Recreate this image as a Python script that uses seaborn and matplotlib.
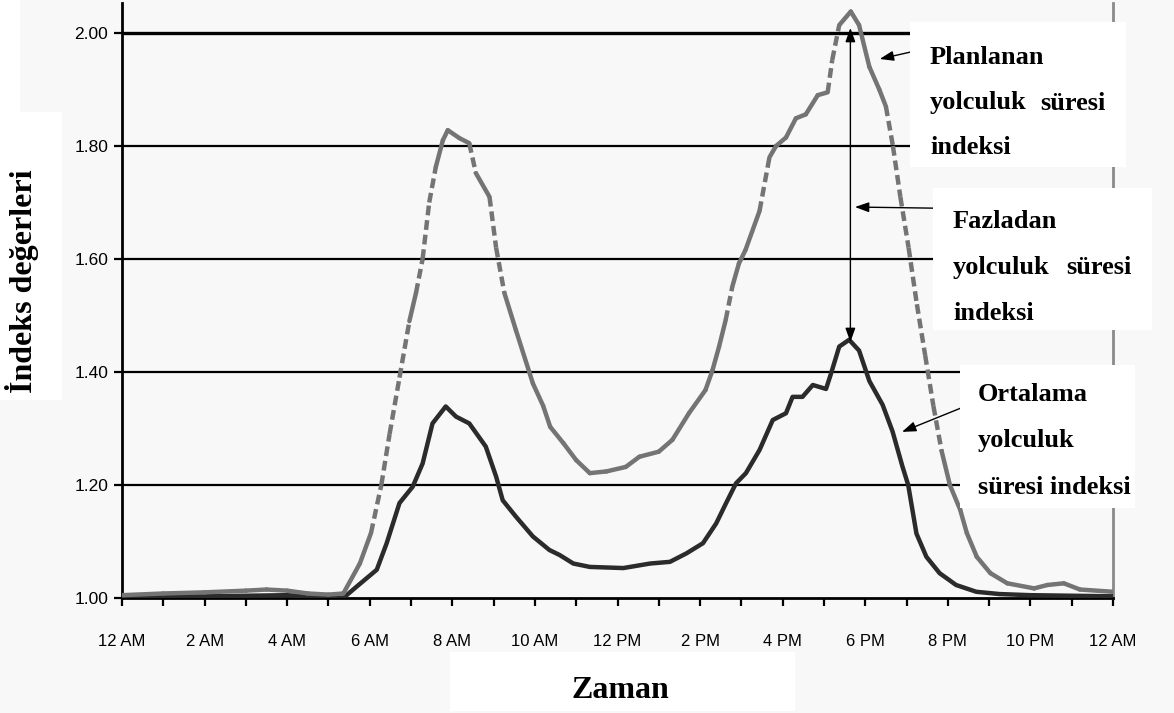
import numpy as np
import pandas as pd
import seaborn as sns
import matplotlib.pyplot as plt
from matplotlib.patches import Rectangle

# planned travel time index (gray) - hours after midnight, index value
plan_hours = [0, 1, 2, 3, 3.5, 4, 4.5, 5, 5.36, 5.76, 6.03, 6.28, 6.48, 6.72, 6.96, 7.12, 7.28, 7.44,
              7.6, 7.77, 7.89, 8.17, 8.41, 8.57, 8.9, 9.06, 9.26, 9.54, 9.95, 10.2, 10.37, 10.69, 11.0,
              11.33, 11.73, 12.2, 12.53, 13.0, 13.33, 13.73, 14.13, 14.3, 14.46, 14.62, 14.78, 14.94,
              15.1, 15.44, 15.68, 15.84, 16.08, 16.32, 16.56, 16.85, 17.09, 17.2, 17.37, 17.65, 17.85,
              18.1, 18.34, 18.5, 18.67, 18.85, 19.05, 19.25, 19.45, 19.65, 19.85, 20.05, 20.3, 20.46,
              20.7, 21.03, 21.44, 22.09, 22.41, 22.81, 23.2, 24.0]
plan_index = [1.005, 1.008, 1.010, 1.013, 1.015, 1.013, 1.008, 1.006, 1.008, 1.061, 1.115, 1.20, 1.29,
              1.39, 1.49, 1.54, 1.60, 1.70, 1.763, 1.81, 1.828, 1.814, 1.805, 1.752, 1.71, 1.62, 1.54,
              1.474, 1.38, 1.34, 1.303, 1.274, 1.244, 1.221, 1.224, 1.232, 1.25, 1.259, 1.28, 1.327,
              1.368, 1.403, 1.445, 1.492, 1.551, 1.592, 1.616, 1.685, 1.78, 1.80, 1.815, 1.849, 1.856,
              1.89, 1.895, 1.952, 2.014, 2.038, 2.014, 1.94, 1.90, 1.87, 1.80, 1.71, 1.62, 1.52, 1.43,
              1.34, 1.26, 1.20, 1.156, 1.115, 1.073, 1.044, 1.026, 1.017, 1.023, 1.026, 1.015, 1.011]

# average travel time index (dark)
avg_hours = [0, 2, 3, 4, 4.5, 5.36, 5.68, 6.17, 6.41, 6.72, 7.04, 7.28, 7.52, 7.84, 8.09, 8.41, 8.81,
             9.06, 9.22, 9.54, 9.95, 10.35, 10.6, 10.93, 11.33, 12.14, 12.79, 13.27, 13.67, 14.07,
             14.39, 14.63, 14.87, 15.11, 15.44, 15.76, 16.08, 16.24, 16.48, 16.73, 17.05, 17.17, 17.37,
             17.61, 17.85, 18.1, 18.42, 18.66, 18.9, 19.04, 19.24, 19.48, 19.8, 20.2, 20.69, 21.25,
             22, 23, 24]
avg_index = [1.002, 1.003, 1.004, 1.005, 1.003, 1.0, 1.02, 1.05, 1.097, 1.168, 1.197, 1.238, 1.309,
             1.339, 1.321, 1.309, 1.268, 1.215, 1.173, 1.144, 1.109, 1.085, 1.076, 1.061, 1.055, 1.053,
             1.061, 1.064, 1.079, 1.097, 1.132, 1.168, 1.203, 1.221, 1.262, 1.315, 1.327, 1.356, 1.356,
             1.377, 1.37, 1.397, 1.445, 1.457, 1.438, 1.384, 1.342, 1.295, 1.233, 1.20, 1.114, 1.073,
             1.044, 1.023, 1.011, 1.007, 1.005, 1.004, 1.003]

tick_labels = ['12 AM', '2 AM', '4 AM', '6 AM', '8 AM', '10 AM', '12 PM',
               '2 PM', '4 PM', '6 PM', '8 PM', '10 PM', '12 AM']
y_ticks = [1.00, 1.20, 1.40, 1.60, 1.80, 2.00]

W, H = 1174, 713
BG = '#f8f8f8'
GRAY = '#747474'
DARK = '#2b2b2b'

sns.set_theme(style='white')
plt.rcParams['font.family'] = ['Liberation Sans', 'DejaVu Sans']

fig = plt.figure(figsize=(W / 100, H / 100), dpi=100, facecolor=BG)
ax = fig.add_axes([122 / W, 115 / H, (1113 - 122) / W, (710 - 115) / H])
ax.set_facecolor(BG)

# gray line: steep pieces come out dashed in the original, flat pieces solid
ph = np.array(plan_hours)
pv = np.array(plan_index)
slope = np.abs(np.diff(pv) / np.diff(ph)) * (565 / 41.3)
rows = []
for i in range(len(ph) - 1):
    kind = 'steep' if slope[i] > 4.5 else 'flat'
    rows.append((ph[i], pv[i], i, kind))
    rows.append((ph[i + 1], pv[i + 1], i, kind))
plan_df = pd.DataFrame(rows, columns=['hour', 'index', 'seg', 'kind'])
avg_df = pd.DataFrame({'hour': avg_hours, 'index': avg_index})

sns.lineplot(data=avg_df, x='hour', y='index', color=DARK, lw=3.2, ax=ax,
             estimator=None, sort=False, zorder=3)
sns.lineplot(data=plan_df, x='hour', y='index', units='seg', style='kind',
             dashes={'flat': '', 'steep': (2.2, 1.1)}, color=GRAY, lw=3.2, ax=ax,
             estimator=None, sort=False, legend=False, zorder=4)

# horizontal grid
for v in y_ticks[1:]:
    ax.axhline(v, color='black', lw=2.4 if v == 2.0 else 1.6, zorder=1)

ax.set_xlim(0, 24)
ax.set_ylim(1.0, 1 + (598 - 3) / 565)
ax.set_xticks(range(0, 25))
ax.set_xticklabels([tick_labels[h // 2] if h % 2 == 0 else '' for h in range(25)])
ax.set_yticks(y_ticks)
ax.set_yticklabels([f'{v:.2f}' for v in y_ticks])
ax.tick_params(axis='x', direction='out', length=6, width=1.6, color='black',
               pad=20, labelsize=12, labelcolor='black', bottom=True)
ax.tick_params(axis='y', direction='out', length=6, width=1.6, color='black',
               pad=4, labelsize=12.5, labelcolor='black', left=True)
ax.set_xlabel('')
ax.set_ylabel('')
for side in ['left', 'bottom']:
    ax.spines[side].set_color('black')
    ax.spines[side].set_linewidth(2)
ax.spines['right'].set_color('#8a8a8a')
ax.spines['right'].set_linewidth(2)
ax.spines['top'].set_visible(False)

# arrows
ax.annotate('', xy=(17.64, 2.009), xytext=(17.64, 1.453),
            arrowprops=dict(arrowstyle='<|-|>,head_length=0.7,head_width=0.25',
                            color='black', lw=1.0, shrinkA=0, shrinkB=0), zorder=6)
for tail, head in [((19.08, 1.966), (18.35, 1.954)),
                   ((19.64, 1.690), (17.75, 1.692)),
                   ((20.31, 1.336), (18.89, 1.294))]:
    ax.annotate('', xy=head, xytext=tail,
                arrowprops=dict(arrowstyle='-|>,head_length=0.7,head_width=0.25',
                                color='black', lw=1.0, shrinkA=0, shrinkB=0), zorder=6)


def box(x0, y0, x1, y1, color='white'):
    fig.add_artist(Rectangle((x0 / W, 1 - y1 / H), (x1 - x0) / W, (y1 - y0) / H,
                             transform=fig.transFigure, facecolor=color,
                             edgecolor='none', zorder=5))


def label(x, y, s, size=19, **kw):
    fig.text(x / W, 1 - y / H, s, fontsize=size, fontweight='bold', va='center',
             family=['Liberation Serif', 'DejaVu Serif'], color='black', zorder=7, **kw)


box(0, 0, 20, 112)
box(0, 112, 62, 400)
box(450, 652, 795, 711)
box(910, 22, 1126, 167)
box(933, 188, 1152, 330)
box(960, 365, 1135, 508)

label(22, 281, 'İndeks değerleri', size=23, rotation=90, ha='center')
label(620, 690, 'Zaman', size=23, ha='center')

label(930, 57, 'Planlanan')
label(930, 103, 'yolculuk')
label(1106, 103, 'süresi', ha='right')
label(930, 148, 'indeksi')

label(953, 222, 'Fazladan')
label(953, 267, 'yolculuk')
label(1132, 267, 'süresi', ha='right')
label(953, 313, 'indeksi')

label(978, 394, 'Ortalama')
label(978, 441, 'yolculuk')
label(978, 488, 'süresi indeksi')

fig.savefig('out.png', dpi=100, facecolor=BG)
